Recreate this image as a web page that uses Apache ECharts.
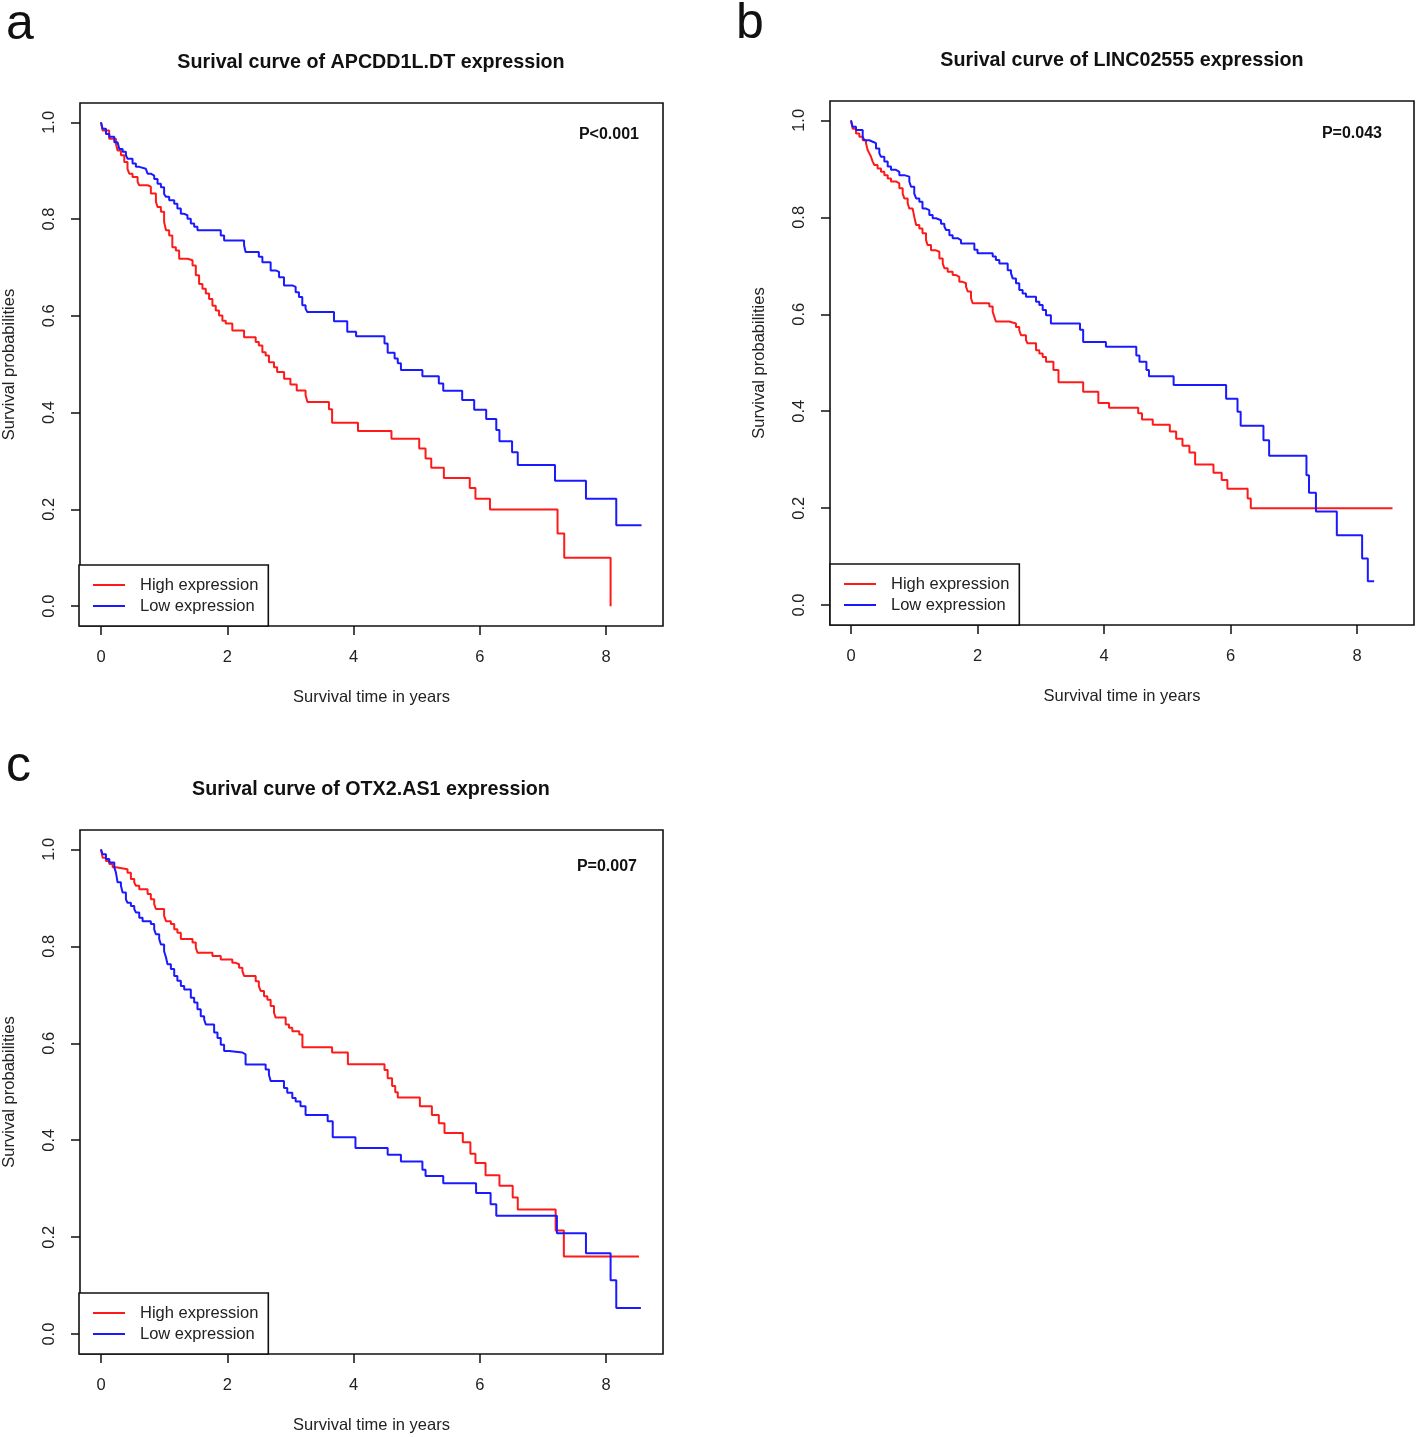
<!DOCTYPE html>
<html lang="en">
<head>
    <meta charset="UTF-8">
    <title>survival curves</title>
    <script src="https://cdn.jsdelivr.net/npm/echarts@6/dist/echarts.min.js"></script>
    <style>
        html, body { margin: 0; padding: 0; background: #fff; }
        #main { width: 1418px; height: 1437px; }
    </style>
</head>
<body>
<div id="main"></div>
<script type="text/javascript">
    // tick values of the axes
    var timeTicks = [0, 2, 4, 6, 8];
    var probTicks = [0, 0.2, 0.4, 0.6, 0.8, 1.0];

    // panel titles / p values
    var panelTitles = ["Surival curve of APCDD1L.DT expression", "Surival curve of LINC02555 expression", "Surival curve of OTX2.AS1 expression"];
    var panelLetters = ["a", "b", "c"];
    var pValues = ["P<0.001", "P=0.043", "P=0.007"];
    var groupNames = ["High expression", "Low expression"];

    // [time in years, survival probability]
    var highA = [[0,1],[0.026,0.983],[0.13,0.966],[0.237,0.956],[0.263,0.942],[0.316,0.932],[0.369,0.918],[0.42,0.904],[0.448,0.894],[0.5,0.887],[0.58,0.877],[0.606,0.87],[0.738,0.867],[0.79,0.853],[0.87,0.836],[0.896,0.825],[0.949,0.815],[1.0,0.794],[1.03,0.777],[1.08,0.766],[1.13,0.742],[1.186,0.735],[1.238,0.718],[1.37,0.715],[1.45,0.704],[1.502,0.684],[1.554,0.666],[1.607,0.656],[1.66,0.646],[1.712,0.635],[1.765,0.621],[1.818,0.611],[1.87,0.601],[1.923,0.59],[1.976,0.584],[2.08,0.57],[2.266,0.556],[2.45,0.546],[2.5,0.539],[2.556,0.525],[2.608,0.518],[2.66,0.504],[2.74,0.494],[2.79,0.484],[2.9,0.47],[3.0,0.458],[3.1,0.446],[3.24,0.436],[3.27,0.422],[3.61,0.407],[3.66,0.379],[4.07,0.362],[4.6,0.346],[5.04,0.326],[5.14,0.305],[5.23,0.286],[5.43,0.265],[5.84,0.244],[5.93,0.222],[6.16,0.2],[7.23,0.15],[7.336,0.1],[8.07,0]];
    var lowA = [[0,1],[0.026,0.987],[0.079,0.976],[0.132,0.97],[0.211,0.959],[0.263,0.956],[0.29,0.945],[0.343,0.939],[0.395,0.932],[0.42,0.925],[0.5,0.915],[0.553,0.908],[0.606,0.904],[0.711,0.901],[0.738,0.894],[0.79,0.89],[0.843,0.883],[0.896,0.873],[0.949,0.866],[1.0,0.852],[1.03,0.846],[1.08,0.839],[1.16,0.832],[1.21,0.822],[1.265,0.811],[1.318,0.808],[1.37,0.801],[1.423,0.791],[1.476,0.784],[1.528,0.777],[1.897,0.766],[1.95,0.756],[2.266,0.746],[2.29,0.732],[2.5,0.722],[2.556,0.711],[2.687,0.694],[2.766,0.691],[2.82,0.68],[2.898,0.663],[3.03,0.66],[3.083,0.649],[3.135,0.639],[3.188,0.622],[3.24,0.615],[3.267,0.608],[3.69,0.589],[3.9,0.567],[4.04,0.558],[4.49,0.543],[4.54,0.524],[4.65,0.512],[4.7,0.502],[4.75,0.488],[5.09,0.475],[5.35,0.46],[5.42,0.445],[5.72,0.426],[5.91,0.406],[6.1,0.387],[6.26,0.364],[6.31,0.341],[6.51,0.318],[6.6,0.292],[7.19,0.259],[7.68,0.222],[8.16,0.167],[8.56,0.167]];

    var highB = [[0,1],[0.026,0.983],[0.079,0.973],[0.132,0.966],[0.185,0.959],[0.237,0.953],[0.263,0.939],[0.29,0.932],[0.316,0.925],[0.343,0.915],[0.369,0.908],[0.42,0.901],[0.474,0.894],[0.527,0.887],[0.58,0.88],[0.632,0.874],[0.711,0.87],[0.764,0.86],[0.817,0.849],[0.843,0.839],[0.896,0.829],[0.922,0.818],[0.975,0.815],[1.0,0.801],[1.03,0.784],[1.08,0.777],[1.13,0.767],[1.186,0.753],[1.21,0.743],[1.265,0.732],[1.344,0.729],[1.397,0.715],[1.45,0.705],[1.476,0.695],[1.528,0.688],[1.607,0.681],[1.66,0.677],[1.712,0.667],[1.765,0.664],[1.818,0.657],[1.845,0.647],[1.897,0.633],[1.923,0.623],[2.187,0.616],[2.24,0.605],[2.266,0.595],[2.29,0.585],[2.5,0.581],[2.608,0.574],[2.66,0.567],[2.687,0.557],[2.766,0.547],[2.79,0.54],[2.925,0.526],[2.977,0.519],[3.03,0.512],[3.083,0.502],[3.2,0.485],[3.28,0.46],[3.67,0.44],[3.91,0.417],[4.08,0.407],[4.54,0.396],[4.6,0.383],[4.77,0.372],[5.04,0.358],[5.14,0.343],[5.24,0.329],[5.35,0.315],[5.44,0.29],[5.73,0.273],[5.86,0.258],[5.95,0.24],[6.27,0.22],[6.32,0.2],[8.56,0.2]];
    var lowB = [[0,1],[0.026,0.987],[0.079,0.98],[0.185,0.966],[0.211,0.959],[0.29,0.956],[0.343,0.953],[0.395,0.942],[0.448,0.932],[0.474,0.925],[0.527,0.915],[0.58,0.905],[0.632,0.898],[0.711,0.894],[0.764,0.887],[0.843,0.884],[0.922,0.874],[0.949,0.863],[1.0,0.849],[1.03,0.839],[1.08,0.832],[1.13,0.818],[1.186,0.815],[1.238,0.805],[1.291,0.798],[1.344,0.794],[1.423,0.787],[1.476,0.781],[1.502,0.774],[1.555,0.763],[1.607,0.757],[1.686,0.753],[1.739,0.746],[1.95,0.733],[2.0,0.726],[2.24,0.719],[2.29,0.712],[2.345,0.705],[2.477,0.691],[2.529,0.685],[2.556,0.674],[2.608,0.664],[2.66,0.65],[2.713,0.643],[2.766,0.636],[2.925,0.626],[2.977,0.619],[3.03,0.609],[3.083,0.598],[3.16,0.581],[3.62,0.568],[3.67,0.543],[4.03,0.533],[4.51,0.515],[4.56,0.502],[4.67,0.485],[4.71,0.472],[5.1,0.454],[5.93,0.426],[6.11,0.399],[6.16,0.37],[6.52,0.34],[6.61,0.308],[7.2,0.268],[7.24,0.232],[7.35,0.193],[7.68,0.144],[8.08,0.096],[8.17,0.049],[8.27,0.049]];

    var highC = [[0,1],[0.026,0.983],[0.079,0.976],[0.132,0.97],[0.185,0.963],[0.237,0.959],[0.42,0.952],[0.474,0.939],[0.527,0.932],[0.553,0.925],[0.606,0.918],[0.738,0.908],[0.79,0.897],[0.843,0.887],[0.87,0.877],[1.0,0.863],[1.03,0.852],[1.107,0.846],[1.16,0.835],[1.21,0.828],[1.265,0.815],[1.45,0.808],[1.502,0.797],[1.528,0.787],[1.765,0.78],[1.897,0.773],[2.08,0.766],[2.134,0.763],[2.187,0.756],[2.24,0.749],[2.266,0.739],[2.45,0.728],[2.5,0.718],[2.529,0.708],[2.582,0.697],[2.635,0.69],[2.687,0.677],[2.74,0.663],[2.766,0.653],[2.925,0.639],[2.977,0.632],[3.03,0.625],[3.14,0.618],[3.19,0.592],[3.66,0.581],[3.91,0.557],[4.49,0.545],[4.54,0.528],[4.61,0.512],[4.66,0.499],[4.7,0.488],[5.05,0.47],[5.24,0.452],[5.35,0.435],[5.44,0.415],[5.73,0.396],[5.85,0.372],[5.93,0.353],[6.09,0.328],[6.31,0.306],[6.52,0.282],[6.6,0.257],[7.2,0.214],[7.33,0.16],[8.52,0.16]];
    var lowC = [[0,1],[0.026,0.99],[0.079,0.98],[0.132,0.973],[0.211,0.963],[0.237,0.952],[0.263,0.932],[0.316,0.925],[0.343,0.911],[0.395,0.897],[0.42,0.89],[0.474,0.883],[0.527,0.877],[0.553,0.87],[0.606,0.859],[0.659,0.852],[0.79,0.846],[0.843,0.835],[0.87,0.825],[0.922,0.815],[0.949,0.804],[1.0,0.79],[1.03,0.777],[1.054,0.763],[1.107,0.753],[1.16,0.739],[1.21,0.729],[1.265,0.718],[1.318,0.711],[1.423,0.694],[1.476,0.684],[1.528,0.67],[1.58,0.656],[1.634,0.649],[1.66,0.639],[1.792,0.622],[1.845,0.611],[1.897,0.597],[1.95,0.584],[2.03,0.581],[2.24,0.577],[2.29,0.556],[2.608,0.546],[2.66,0.535],[2.687,0.522],[2.898,0.508],[2.95,0.498],[3.03,0.487],[3.083,0.48],[3.16,0.47],[3.24,0.452],[3.59,0.439],[3.67,0.406],[4.03,0.384],[4.54,0.37],[4.75,0.356],[5.09,0.339],[5.14,0.326],[5.42,0.311],[5.94,0.291],[6.17,0.268],[6.26,0.244],[7.22,0.208],[7.68,0.167],[8.07,0.111],[8.16,0.054],[8.55,0.054]];

    var curves = [[highA, lowA], [highB, lowB], [highC, lowC]];

    var FONT = "'Liberation Sans', Arial, sans-serif";
    var RED = "#ff1a1a", BLUE = "#1a1aff";

    // plot boxes (px) of the three panels
    var boxes = [
        {left: 79, top: 103, width: 584, height: 523},
        {left: 830, top: 101, width: 584, height: 524},
        {left: 79, top: 830, width: 584, height: 524}
    ];
    // p value anchor (right edge, middle) and panel letter anchor
    var pPos = [[639, 135], [1382, 134], [637, 867]];
    var letterPos = [[6, 0], [736, -1], [6, 742]];

    var grids = [], xAxes = [], yAxes = [], series = [], legends = [], graphics = [];

    for (var i = 0; i < 3; i++) {
        var b = boxes[i];
        grids.push({
            left: b.left, top: b.top, width: b.width, height: b.height,
            show: true, borderColor: "#111", borderWidth: 1.6, backgroundColor: "#fff"
        });
        xAxes.push({
            type: "value", gridIndex: i, min: -0.332, max: 8.9,
            name: "Survival time in years", nameLocation: "middle", nameGap: 63,
            nameTextStyle: {fontFamily: FONT, fontSize: 16.5, color: "#222"},
            axisLine: {show: false, onZero: false},
            axisTick: {show: true, length: 9, lineStyle: {color: "#111", width: 1.5}, customValues: timeTicks},
            axisLabel: {fontFamily: FONT, fontSize: 16.5, color: "#222", margin: 23, customValues: timeTicks},
            splitLine: {show: false}
        });
        yAxes.push({
            type: "value", gridIndex: i, min: -0.041, max: 1.04,
            name: "Survival probabilities", nameLocation: "middle", nameGap: 62,
            nameTextStyle: {fontFamily: FONT, fontSize: 16.5, color: "#222"},
            axisLine: {show: false, onZero: false},
            axisTick: {show: true, length: 9, lineStyle: {color: "#111", width: 1.5}, customValues: probTicks},
            axisLabel: {
                fontFamily: FONT, fontSize: 16.5, color: "#222", margin: 22, rotate: 90,
                customValues: probTicks,
                formatter: function (v) { return Number(v).toFixed(1); }
            },
            splitLine: {show: false}
        });
        for (var g = 0; g < 2; g++) {
            series.push({
                name: groupNames[g], type: "line", step: "end",
                xAxisIndex: i, yAxisIndex: i,
                data: curves[i][g],
                showSymbol: false, symbol: "none",
                color: g === 0 ? RED : BLUE,
                lineStyle: {width: 2, color: g === 0 ? RED : BLUE}
            });
        }
        legends.push({
            orient: "vertical", left: b.left, top: b.top + b.height - 61,
            data: groupNames,
            icon: "rect", itemWidth: 32, itemHeight: 2, itemGap: 3,
            padding: [11, 10, 11, 14],
            backgroundColor: "#fff", borderColor: "#111", borderWidth: 1.6,
            selectedMode: false,
            textStyle: {fontFamily: FONT, fontSize: 16.5, color: "#222", lineHeight: 18, padding: [0, 0, 0, 10]}
        });
        // title, centred over the plot box
        graphics.push({
            type: "text", x: b.left + b.width / 2, y: b.top - 40,
            style: {text: panelTitles[i], font: "bold 19.7px " + FONT, fill: "#111", align: "center", verticalAlign: "middle"}
        });
        // p value
        graphics.push({
            type: "text", x: pPos[i][0], y: pPos[i][1],
            style: {text: pValues[i], font: "bold 16px " + FONT, fill: "#111", align: "right", verticalAlign: "middle"}
        });
        // panel letter
        graphics.push({
            type: "text", left: letterPos[i][0], top: letterPos[i][1],
            style: {text: panelLetters[i], font: "50px " + FONT, fill: "#111"}
        });
    }

    var myChart = echarts.init(document.getElementById("main"), null, {renderer: "canvas"});
    myChart.setOption({
        animation: false,
        backgroundColor: "#fff",
        grid: grids,
        xAxis: xAxes,
        yAxis: yAxes,
        legend: legends,
        series: series,
        graphic: graphics
    });
</script>
</body>
</html>
